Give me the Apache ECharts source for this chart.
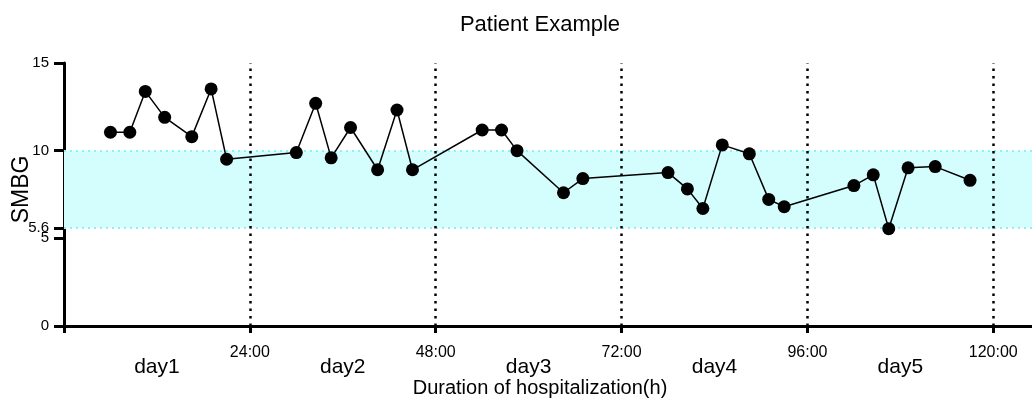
<!DOCTYPE html>
<html>
<head>
<meta charset="utf-8">
<script src="https://cdn.jsdelivr.net/npm/echarts@6/dist/echarts.min.js"></script>
<style>html,body{margin:0;padding:0;background:#fff;}#c{width:1032px;height:400px;}</style>
</head>
<body>
<div id="c"></div>
<script>
const titleText = 'Patient Example';
const xName = 'Duration of hospitalization(h)';
const yName = 'SMBG';
const hours = [6,8.5,10.5,13,16.5,19,21, 30,32.5,34.5,37,40.5,43,45, 54,56.5,58.5,64.5,67, 78,80.5,82.5,85,88.5,91,93, 102,104.5,106.5,109,112.5,117];
const smbg  = [11.05,11.05,13.38,11.9,10.8,13.52,9.51, 9.89,12.7,9.59,11.32,8.91,12.32,8.91, 11.18,11.18,10.0,7.6,8.41, 8.75,7.82,6.7,10.33,9.82,7.22,6.8, 8.01,8.62,5.55,9.02,9.09,8.31];
const xTickValues = [0,24,48,72,96,120];
const xTickLabels = ['', '24:00', '48:00', '72:00', '96:00', '120:00'];
const dayCenters = [12,36,60,84,108];
const dayLabels = ['day1','day2','day3','day4','day5'];
const yTickValues = [0,5,5.6,10,15];
const yTickLabels = ['0','5','5.6','10','15'];
const targetLow = 5.6, targetHigh = 10;
const dayBoundaries = [24,48,72,96,120];

const FONT = '"Liberation Sans", Arial, sans-serif';
const chart = echarts.init(document.getElementById('c'), null, {renderer:'canvas'});
const pts = hours.map((h,i)=>[h, smbg[i]]);
chart.setOption({
  animation:false,
  backgroundColor:'#fff',
  title:{text:titleText, left:540, top:14, textAlign:'center', padding:0,
    textStyle:{fontFamily:FONT, fontSize:22, fontWeight:'normal', color:'#000'}},
  grid:{left:64, right:0, top:63, bottom:74, containLabel:false, outerBoundsMode:'none'},
  xAxis:[{
    type:'value', min:0, max:125, interval:24,
    name:xName, nameLocation:'middle', nameGap:52, nameMoveOverlap:false,
    nameTextStyle:{fontFamily:FONT, fontSize:20, color:'#000', padding:[0,16,0,0]},
    axisLine:{show:true, onZero:false, lineStyle:{color:'#000', width:3}},
    axisTick:{show:true, length:7, customValues:xTickValues, lineStyle:{color:'#000', width:3}},
    axisLabel:{customValues:xTickValues, margin:19, fontFamily:FONT, fontSize:16, color:'#000',
      formatter:(v)=>xTickLabels[xTickValues.indexOf(v)] ?? ''},
    splitLine:{show:false}
  },{
    type:'value', min:0, max:125, position:'bottom',
    axisLine:{show:false}, axisTick:{show:false}, splitLine:{show:false},
    axisLabel:{customValues:dayCenters, margin:31, fontFamily:FONT, fontSize:21, color:'#000',
      formatter:(v)=>dayLabels[dayCenters.indexOf(v)] ?? ''}
  }],
  yAxis:{
    type:'value', min:0, max:15,
    name:yName, nameLocation:'middle', nameGap:31, nameRotate:90, nameMoveOverlap:false,
    nameTextStyle:{fontFamily:FONT, fontSize:23, color:'#000', padding:[0,0,0,10]},
    axisLine:{show:true, lineStyle:{color:'#000', width:3}},
    axisTick:{show:true, length:10, customValues:yTickValues, lineStyle:{color:'#000', width:3}},
    axisLabel:{customValues:yTickValues, margin:15, fontFamily:FONT, fontSize:15, color:'#000',
      formatter:(v)=>yTickLabels[yTickValues.indexOf(v)] ?? ''},
    splitLine:{show:false}
  },
  series:[{
    type:'line', data:[], silent:true, z:1,
    markArea:{silent:true, itemStyle:{color:'#d4fdfd'},
      data:[[{yAxis:targetLow},{yAxis:targetHigh}]]},
    markLine:{silent:true, symbol:'none', label:{show:false},
      lineStyle:{color:'#8ef2f2', width:2, type:[2,4]},
      data:[{yAxis:targetLow},{yAxis:targetHigh}]}
  },{
    type:'line', data:[], silent:true, z:2,
    markLine:{silent:true, symbol:'none', label:{show:false},
      lineStyle:{color:'#000', width:2.5, type:[2.5,5]},
      data:dayBoundaries.map(v=>({xAxis:v}))}
  },{
    type:'line', data:pts, z:5,
    lineStyle:{color:'#000', width:1.5},
    symbol:'circle', symbolSize:13, showAllSymbol:true,
    itemStyle:{color:'#000'}
  }]
});
</script>
</body>
</html>
